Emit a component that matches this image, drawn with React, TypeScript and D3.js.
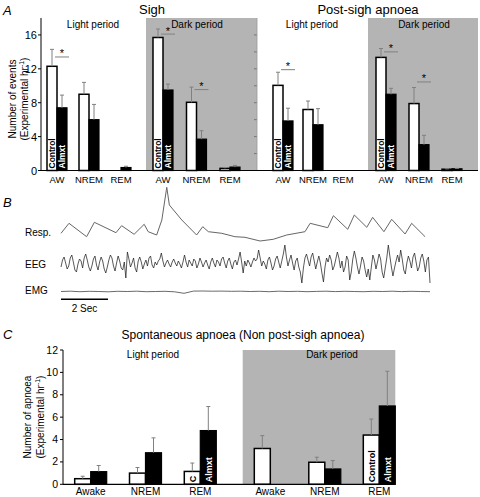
import React from "react";
import * as d3 from "d3";

const FONT = "'Liberation Sans', Arial, Helvetica, sans-serif";

// ---------- Panel A data ----------
const states = ["AW", "NREM", "REM"];
const sighLightControl = [12.3, 9.0, 0];
const sighLightControlErr = [2.0, 1.4, 0];
const sighLightAlmxt = [7.4, 6.0, 0.35];
const sighLightAlmxtErr = [1.5, 1.8, 0.15];
const sighDarkControl = [15.7, 8.05, 0.25];
const sighDarkControlErr = [1.0, 1.8, 0.1];
const sighDarkAlmxt = [9.5, 3.7, 0.4];
const sighDarkAlmxtErr = [0.7, 1.0, 0.2];
const postLightControl = [10.05, 7.2, 0];
const postLightControlErr = [1.55, 1.0, 0];
const postLightAlmxt = [5.85, 5.4, 0];
const postLightAlmxtErr = [1.5, 1.9, 0];
const postDarkControl = [13.35, 7.9, 0.15];
const postDarkControlErr = [1.05, 1.9, 0.05];
const postDarkAlmxt = [9.0, 3.05, 0.2];
const postDarkAlmxtErr = [0.7, 1.1, 0.05];
const aTicks = [0, 4, 8, 12, 16];
const aMinorTicks = [2, 4, 6, 8, 10, 12, 14, 16];
// significance markers: [state, bracket level]
const sighLightStars = [{ state: "AW", level: 13.4 }];
const sighDarkStars = [{ state: "AW", level: 16.1 }, { state: "NREM", level: 9.55 }];
const postLightStars = [{ state: "AW", level: 11.9 }];
const postDarkStars = [{ state: "AW", level: 14.0 }, { state: "NREM", level: 10.45 }];

// ---------- Panel C data ----------
const cStates = ["Awake", "NREM", "REM"];
const cLightControl = [0.5, 1.0, 1.15];
const cLightControlErr = [0.22, 0.5, 0.75];
const cLightAlmxt = [1.13, 2.82, 4.8];
const cLightAlmxtErr = [0.55, 1.33, 2.15];
const cDarkControl = [3.2, 1.97, 4.4];
const cDarkControlErr = [1.15, 0.45, 1.43];
const cDarkAlmxt = [0, 1.37, 7.0];
const cDarkAlmxtErr = [0, 0.75, 3.1];
const cTicks = [0, 2, 4, 6, 8, 10, 12];

// ---------- Panel B traces (time s, amplitude) ----------
const respTime = [0, 0.34, 1.09, 1.42, 2.34, 2.58, 3.11, 3.54, 3.71, 4.07, 4.29, 4.5, 4.61, 5.14, 5.77, 6.03, 6.27, 6.84, 7.4, 7.83, 8.47, 9.03, 9.6, 10.38, 10.6, 11.35, 11.59, 12.2, 12.48, 13.01, 13.26, 13.74, 14.07, 14.64, 14.92, 15.49];
const respAmp = [7.7, 17.7, 4.3, 18.7, 8.3, 15.3, 6.7, 16.7, 9.3, 6, 21, 53.7, 36, 21, 6, 14.3, 9.3, 7.7, 4.3, 3.7, 0, 1.7, 6, 9.3, 17.7, 13.3, 25.3, 11.7, 26, 13.7, 23.7, 9.3, 21.7, 7, 17.7, 4.3];
const eeg = [
  -3, 4, 7, 1, -5, -2, 6, 9, 2, -6, -8, 0, 5, 3, -4, 6, 10, 4, -3, -7,
  -2, 5, 8, -1, -6, 2, 7, 3, -5, -9, -3, 4, 9, 6, -2, -7, 1, 8, 3, -4,
  -6, 2, -14, 12, 5, -3, 1, 6, -4, -8, 3, 7, 2, -5, 0, 4, -2, 6, 8, -1,
  -4, 2, -1, 3, 5, 11, 3, -3, 1, 4, 0, -3, 2, 5, 1, -2, 3, 0, -4, 2,
  9, 2, -3, 4, 1, -2, 5, 3, -4, 0, 6, 2, -3, 1, 4, -1, -5, 2, 6, 1,
  -3, 4, 2, -2, 5, 7, 1, -4, 3, 6, 0, -5, 2, 4, -1, 5, 12, 2, -9, 3,
  -2, 4, 1, -3, 2, 6, 3, 5, 14, 6, -2, 3, 0, -5, 4, 7, 1, -6, -2, 5,
  8, 2, -4, 3, 10, 19, 7, -2, 4, 9, 1, -6, 3, 6, -3, -8, -19, -4, 6, 10,
  4, -2, 7, 11, 3, -5, 2, 8, 1, -9, -18, -3, 6, 2, 9, 4, -6, -2, 5, 12,
  6, -4, 3, -8, -3, 8, 4, -16, -8, 5, 13, 6, -3, -10, -2, 7, 3, -6, -13, -5,
  -16, -3, 9, 4, -5, 2, 10, 5, -8, -14, -4, 6, 19, 8, -3, -12, -4, 3, 9, 2,
  14, 5, -6, -10, 1, 8, 3, -4, 7, 11, 2, -7, -3, 6, 10, 3, -8, 4, 7, -19,
];
const emg = [0, 0.3, -0.2, 0.2, 0, -0.3, 0.2, 0, 0.3, -0.2, 0, 0.2, -0.3, -1.8, 0.4, 0.5, 0.3, 0.4, 0.2, 0.3, 0, 0.2, -0.2, 0.3, 0, 0.2, -0.2, 0.1, 0.3, -0.1, 0.2, 0, -0.2, 0.2, 0, 0.3, -0.1, 0.2, 0, -0.2];
const traceDuration = 15.7;

// ---------- layout ----------
const GRAY = "#b4b4b4";
const ERR = "#808080";

const yA = d3.scaleLinear().domain([0, 18]).range([170.5, 18]);
const yC = d3.scaleLinear().domain([0, 12]).range([484.3, 350]);

function BarSet({ x, y, control, controlErr, almxt, almxtErr, bw, labels, fontSize, axisY, catLabels, labelY, labelSize }: any) {
  return (
    <g>
      {states.map((s, i) => {
        const c = x(s) as number;
        const items: any[] = [];
        const cv = control[i];
        const av = almxt[i];
        if (cv > 0) {
          items.push(
            <rect key="c" x={c - bw} y={y(cv)} width={bw} height={y(0) - y(cv)} fill="#fff" stroke="#000" strokeWidth={1.5} />
          );
        }
        if (av > 0) {
          items.push(
            <rect key="a" x={c} y={y(av)} width={bw} height={y(0) - y(av)} fill="#000" stroke="#000" strokeWidth={1.2} />
          );
        }
        const errs = [
          [cv, controlErr[i], c - bw / 2],
          [av, almxtErr[i], c + bw / 2],
        ];
        errs.forEach(([v, e, ex], k) => {
          if (v > 0 && e > 0) {
            items.push(
              <g key={"e" + k} stroke={ERR} strokeWidth={1}>
                <line x1={ex} x2={ex} y1={y(v)} y2={y(v + e)} />
                <line x1={ex - 2} x2={ex + 2} y1={y(v + e)} y2={y(v + e)} />
              </g>
            );
          }
        });
        const lab = labels && labels[i];
        if (lab) {
          if (lab[0]) {
            items.push(
              <text key="lc" transform={`translate(${c - bw / 2 + fontSize * 0.36},${axisY - 2}) rotate(-90)`} fontSize={fontSize} fontWeight="bold" fill="#000" fontFamily={FONT}>
                {lab[0]}
              </text>
            );
          }
          if (lab[1]) {
            items.push(
              <text key="la" transform={`translate(${c + bw / 2 + fontSize * 0.36},${axisY - 2}) rotate(-90)`} fontSize={fontSize} fontWeight="bold" fill="#fff" fontFamily={FONT}>
                {lab[1]}
              </text>
            );
          }
        }
        items.push(
          <text key="xl" x={c} y={labelY} textAnchor="middle" fontSize={labelSize} fontFamily={FONT} fill="#000">
            {catLabels[i]}
          </text>
        );
        return <g key={s}>{items}</g>;
      })}
    </g>
  );
}

function Stars({ x, y, stars }: any) {
  return (
    <g>
      {stars.map((st: any, i: number) => {
        const c = x(st.state) as number;
        const ly = y(st.level);
        return (
          <g key={i}>
            <line x1={c - 2} x2={c + 12} y1={ly} y2={ly} stroke={ERR} strokeWidth={1} />
            <text x={c + 5} y={ly + 0.5} textAnchor="middle" fontSize={11} fontFamily={FONT} fill="#000">*</text>
          </g>
        );
      })}
    </g>
  );
}

export default function App() {
  const sighLightX = d3.scalePoint().domain(states).range([57, 121]);
  const sighDarkX = d3.scalePoint().domain(states).range([163, 230]);
  const postLightX = d3.scalePoint().domain(states).range([283, 343]);
  const postDarkX = d3.scalePoint().domain(states).range([386, 452]);

  const cLightX = d3.scalePoint().domain(states).range([90.7, 200.3]);
  const cDarkX = d3.scalePoint().domain(states).range([270.3, 379.3]);

  const tX = d3.scaleLinear().domain([0, traceDuration]).range([61, 430]);
  const respY = d3.scaleLinear().domain([0, 60]).range([241, 181]);
  const eegY = d3.scaleLinear().domain([-15, 15]).range([279, 249]);
  const emgY = d3.scaleLinear().domain([-3, 3]).range([294.5, 288.5]);

  const respLine = d3.line<number>().x((_, i) => tX(respTime[i])).y((d) => respY(d));
  const eegLine = d3.line<number>().x((_, i) => tX((i * traceDuration) / (eeg.length - 1))).y((d) => eegY(d));
  const emgLine = d3.line<number>().x((_, i) => tX((i * traceDuration) / (emg.length - 1))).y((d) => emgY(d));

  const aLabels = [["Control", "Almxt"], null, null];
  const cLabelsLight = [null, null, ["C", "Almxt"]];
  const cLabelsDark = [null, null, ["Control", "Almxt"]];

  return (
    <svg width={480} height={497} style={{ position: "absolute", left: 0, top: 0, display: "block", background: "#fff" }} fontFamily={FONT}>
      {/* ---------------- Panel A ---------------- */}
      <rect x={146} y={yA(18)} width={111} height={yA(0) - yA(18)} fill={GRAY} />
      <rect x={368} y={yA(18)} width={110} height={yA(0) - yA(18)} fill={GRAY} />
      <text x={3} y={15} fontSize={13} fontStyle="italic">A</text>
      <text x={152} y={14} fontSize={13} textAnchor="middle">Sigh</text>
      <text x={368} y={14} fontSize={13} textAnchor="middle">Post-sigh apnoea</text>
      <text x={93} y={28} fontSize={10} textAnchor="middle">Light period</text>
      <text x={197} y={28} fontSize={10} textAnchor="middle">Dark period</text>
      <text x={312} y={28} fontSize={10} textAnchor="middle">Light period</text>
      <text x={424} y={28} fontSize={10} textAnchor="middle">Dark period</text>

      {/* y axis */}
      <line x1={41} x2={41} y1={yA(18)} y2={yA(0)} stroke="#000" strokeWidth={1} />
      {aTicks.map((t) => (
        <g key={t}>
          <line x1={38} x2={41} y1={yA(t)} y2={yA(t)} stroke="#000" />
          <text x={37} y={yA(t) + 4} fontSize={11} textAnchor="end">{t}</text>
        </g>
      ))}
      {aMinorTicks.map((t) => (
        <line key={t} x1={254} x2={257} y1={yA(t)} y2={yA(t)} stroke="#666" strokeWidth={0.8} />
      ))}
      <line x1={257} x2={257} y1={yA(18)} y2={yA(0)} stroke="#9a9a9a" strokeWidth={0.8} />
      <text transform={`translate(15.5,99) rotate(-90)`} fontSize={10} textAnchor="middle">Number of events</text>
      <text transform={`translate(27.5,99) rotate(-90)`} fontSize={10} textAnchor="middle">
        (Experimental hr<tspan dy={-3.5} fontSize={7}>-1</tspan><tspan dy={3.5}>)</tspan>
      </text>

      <BarSet x={sighLightX} y={yA} control={sighLightControl} controlErr={sighLightControlErr} almxt={sighLightAlmxt} almxtErr={sighLightAlmxtErr} bw={10} labels={aLabels} fontSize={8.5} axisY={yA(0)} catLabels={states} labelY={182.5} labelSize={9.5} />
      <BarSet x={sighDarkX} y={yA} control={sighDarkControl} controlErr={sighDarkControlErr} almxt={sighDarkAlmxt} almxtErr={sighDarkAlmxtErr} bw={10} labels={aLabels} fontSize={8.5} axisY={yA(0)} catLabels={states} labelY={182.5} labelSize={9.5} />
      <BarSet x={postLightX} y={yA} control={postLightControl} controlErr={postLightControlErr} almxt={postLightAlmxt} almxtErr={postLightAlmxtErr} bw={10} labels={aLabels} fontSize={8.5} axisY={yA(0)} catLabels={states} labelY={182.5} labelSize={9.5} />
      <BarSet x={postDarkX} y={yA} control={postDarkControl} controlErr={postDarkControlErr} almxt={postDarkAlmxt} almxtErr={postDarkAlmxtErr} bw={10} labels={aLabels} fontSize={8.5} axisY={yA(0)} catLabels={states} labelY={182.5} labelSize={9.5} />
      <Stars x={sighLightX} y={yA} stars={sighLightStars} />
      <Stars x={sighDarkX} y={yA} stars={sighDarkStars} />
      <Stars x={postLightX} y={yA} stars={postLightStars} />
      <Stars x={postDarkX} y={yA} stars={postDarkStars} />
      <line x1={41} x2={478} y1={yA(0)} y2={yA(0)} stroke="#000" strokeWidth={1.2} />

      {/* ---------------- Panel B ---------------- */}
      <text x={3} y={207} fontSize={13} fontStyle="italic">B</text>
      <text x={25} y={236} fontSize={10}>Resp.</text>
      <text x={25} y={268} fontSize={10}>EEG</text>
      <text x={25} y={294} fontSize={10}>EMG</text>
      <path d={respLine(respAmp) || ""} fill="none" stroke="#666" strokeWidth={1} />
      <path d={eegLine(eeg) || ""} fill="none" stroke="#222" strokeWidth={0.75} />
      <path d={emgLine(emg) || ""} fill="none" stroke="#444" strokeWidth={0.8} />
      <line x1={tX(0)} x2={tX(2)} y1={299.3} y2={299.3} stroke="#000" strokeWidth={1.5} />
      <text x={(tX(0) + tX(2)) / 2} y={312} fontSize={10} textAnchor="middle">2 Sec</text>

      {/* ---------------- Panel C ---------------- */}
      <rect x={242.7} y={yC(12)} width={395.3 - 242.7} height={yC(0) - yC(12)} fill={GRAY} />
      <text x={3} y={339} fontSize={13} fontStyle="italic">C</text>
      <text x={243} y={339} fontSize={12} textAnchor="middle">Spontaneous apnoea (Non post-sigh apnoea)</text>
      <text x={153} y={358} fontSize={10} textAnchor="middle">Light period</text>
      <text x={332} y={358} fontSize={10} textAnchor="middle">Dark period</text>
      <line x1={63} x2={63} y1={yC(12)} y2={yC(0)} stroke="#000" strokeWidth={1} />
      {cTicks.map((t) => (
        <g key={t}>
          <line x1={60} x2={63} y1={yC(t)} y2={yC(t)} stroke="#000" />
          <text x={58} y={yC(t) + 3.5} fontSize={10.5} textAnchor="end">{t}</text>
        </g>
      ))}
      <text transform={`translate(30.5,417) rotate(-90)`} fontSize={10} textAnchor="middle">Number of apnoea</text>
      <text transform={`translate(43.5,417) rotate(-90)`} fontSize={10} textAnchor="middle">
        (Experimental hr<tspan dy={-3.5} fontSize={7}>-1</tspan><tspan dy={3.5}>)</tspan>
      </text>
      <BarSet x={cLightX} y={yC} control={cLightControl} controlErr={cLightControlErr} almxt={cLightAlmxt} almxtErr={cLightAlmxtErr} bw={16} labels={cLabelsLight} fontSize={9} axisY={yC(0)} catLabels={cStates} labelY={495} labelSize={10} />
      <BarSet x={cDarkX} y={yC} control={cDarkControl} controlErr={cDarkControlErr} almxt={cDarkAlmxt} almxtErr={cDarkAlmxtErr} bw={16} labels={cLabelsDark} fontSize={9} axisY={yC(0)} catLabels={cStates} labelY={495} labelSize={10} />
      <line x1={63} x2={395.3} y1={yC(0)} y2={yC(0)} stroke="#000" strokeWidth={1.2} />
    </svg>
  );
}
